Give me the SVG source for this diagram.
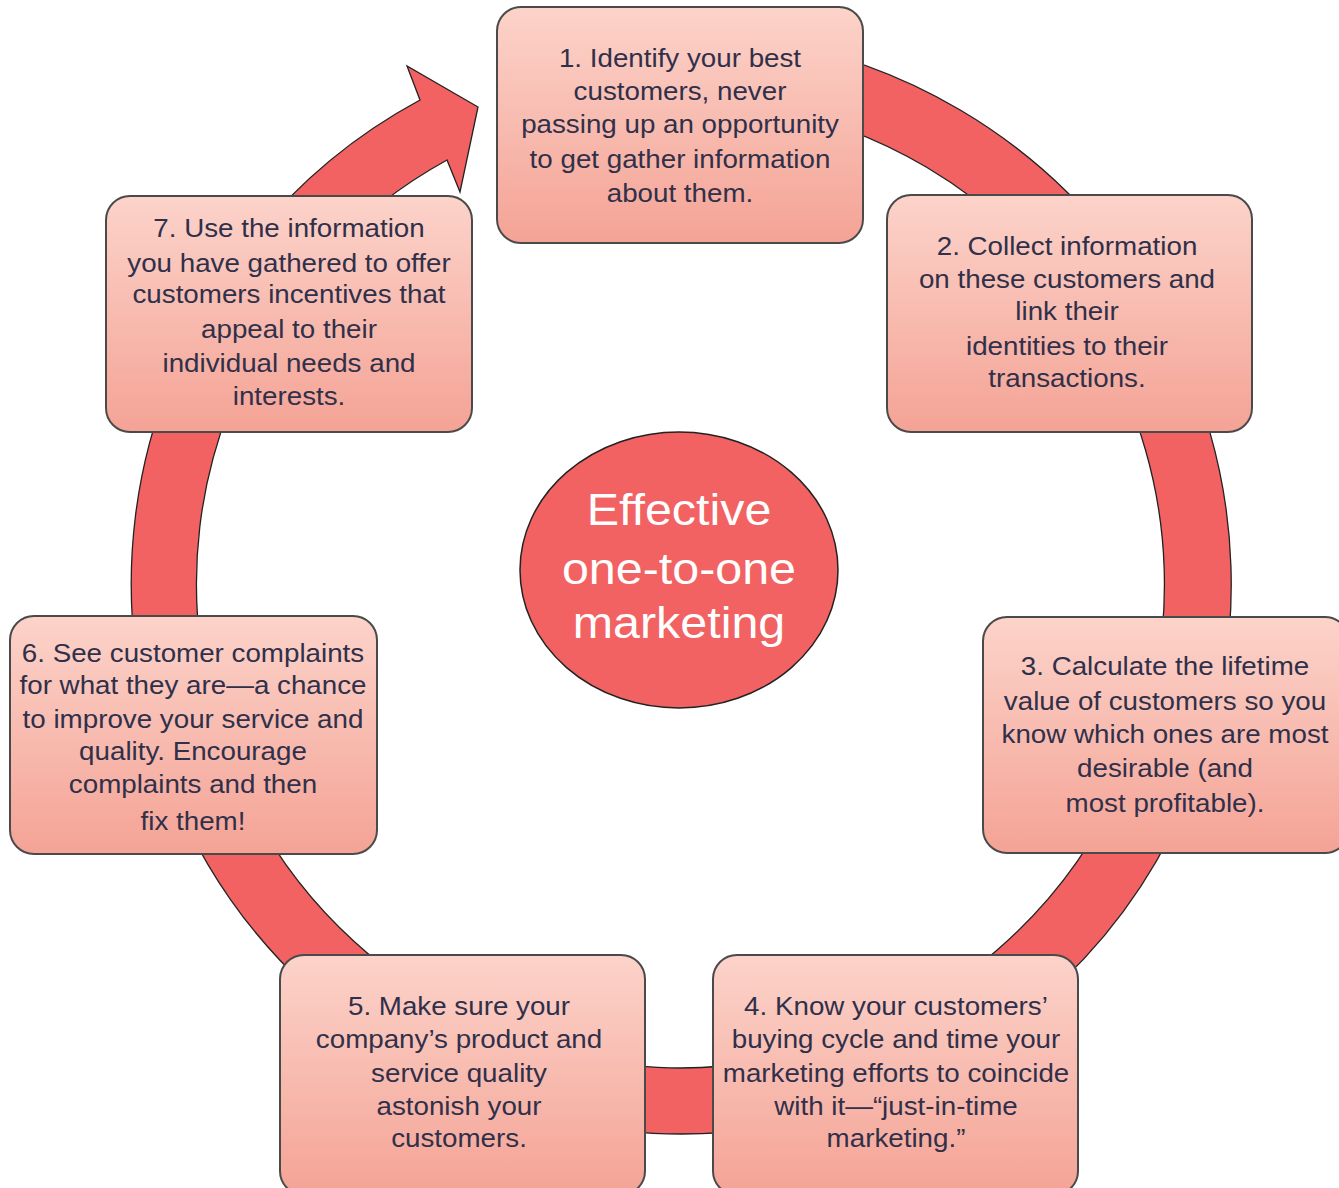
<svg xmlns="http://www.w3.org/2000/svg" width="1339" height="1188" viewBox="0 0 1339 1188">
<defs>
<linearGradient id="boxGrad" x1="0" y1="0" x2="0" y2="1">
<stop offset="0" stop-color="#FCD3CA"/>
<stop offset="1" stop-color="#F4A395"/>
</linearGradient>
<style>
.box{fill:url(#boxGrad);stroke:#4a4a4a;stroke-width:2}
.ring{fill:#F26262;stroke:#222;stroke-width:1.3;stroke-linejoin:miter}
.t{font-family:"Liberation Sans",Arial,sans-serif;font-size:25px;fill:#30304a;text-anchor:middle}
.c{font-family:"Liberation Sans",Arial,sans-serif;font-size:44px;fill:#ffffff;text-anchor:middle}
.hub{fill:#F26262;stroke:#222;stroke-width:1.5}
</style>
</defs>
<rect width="1339" height="1188" fill="#ffffff"/>
<g id="connectors">
<path class="ring" d="M 728,36 A 550 550 0 1 1 420,100 L 407,66 L 478,107 L 460,192 L 447,160 A 484 484 0 1 0 722.2,101.8 Z"/>
</g>
<g id="node1">
<rect class="box" x="497" y="7" width="366" height="236" rx="24"/>
<g transform="translate(680 0) scale(1.11 1)">
<text class="t" x="0" y="67">1. Identify your best</text>
<text class="t" x="0" y="100">customers, never</text>
<text class="t" x="0" y="133">passing up an opportunity</text>
<text class="t" x="0" y="168">to get gather information</text>
<text class="t" x="0" y="202">about them.</text>
</g>
</g>
<g id="node2">
<rect class="box" x="887" y="195" width="365" height="237" rx="24"/>
<g transform="translate(1067 0) scale(1.11 1)">
<text class="t" x="0" y="255">2. Collect information</text>
<text class="t" x="0" y="288">on these customers and</text>
<text class="t" x="0" y="320">link their</text>
<text class="t" x="0" y="355">identities to their</text>
<text class="t" x="0" y="387">transactions.</text>
</g>
</g>
<g id="node3">
<rect class="box" x="983" y="617" width="366" height="236" rx="24"/>
<g transform="translate(1165 0) scale(1.11 1)">
<text class="t" x="0" y="675">3. Calculate the lifetime</text>
<text class="t" x="0" y="710">value of customers so you</text>
<text class="t" x="0" y="743">know which ones are most</text>
<text class="t" x="0" y="777">desirable (and</text>
<text class="t" x="0" y="812">most profitable).</text>
</g>
</g>
<g id="node4">
<rect class="box" x="713" y="955" width="365" height="240" rx="24"/>
<g transform="translate(896 0) scale(1.11 1)">
<text class="t" x="0" y="1015">4. Know your customers’</text>
<text class="t" x="0" y="1048">buying cycle and time your</text>
<text class="t" x="0" y="1082">marketing efforts to coincide</text>
<text class="t" x="0" y="1115">with it—“just-in-time</text>
<text class="t" x="0" y="1147">marketing.”</text>
</g>
</g>
<g id="node5">
<rect class="box" x="280" y="955" width="365" height="240" rx="24"/>
<g transform="translate(459 0) scale(1.11 1)">
<text class="t" x="0" y="1015">5. Make sure your</text>
<text class="t" x="0" y="1048">company’s product and</text>
<text class="t" x="0" y="1082">service quality</text>
<text class="t" x="0" y="1115">astonish your</text>
<text class="t" x="0" y="1147">customers.</text>
</g>
</g>
<g id="node6">
<rect class="box" x="10" y="616" width="367" height="238" rx="24"/>
<g transform="translate(193 0) scale(1.11 1)">
<text class="t" x="0" y="662">6. See customer complaints</text>
<text class="t" x="0" y="694">for what they are—a chance</text>
<text class="t" x="0" y="728">to improve your service and</text>
<text class="t" x="0" y="760">quality. Encourage</text>
<text class="t" x="0" y="793">complaints and then</text>
<text class="t" x="0" y="830">fix them!</text>
</g>
</g>
<g id="node7">
<rect class="box" x="106" y="196" width="366" height="236" rx="24"/>
<g transform="translate(289 0) scale(1.11 1)">
<text class="t" x="0" y="237">7. Use the information</text>
<text class="t" x="0" y="272">you have gathered to offer</text>
<text class="t" x="0" y="303">customers incentives that</text>
<text class="t" x="0" y="338">appeal to their</text>
<text class="t" x="0" y="372">individual needs and</text>
<text class="t" x="0" y="405">interests.</text>
</g>
</g>
<g id="center">
<ellipse class="hub" cx="679" cy="570" rx="159" ry="138"/>
<g transform="translate(679 0) scale(1.1 1)">
<text class="c" x="0" y="525">Effective</text>
<text class="c" x="0" y="584">one-to-one</text>
<text class="c" x="0" y="638">marketing</text>
</g>
</g>
</svg>
